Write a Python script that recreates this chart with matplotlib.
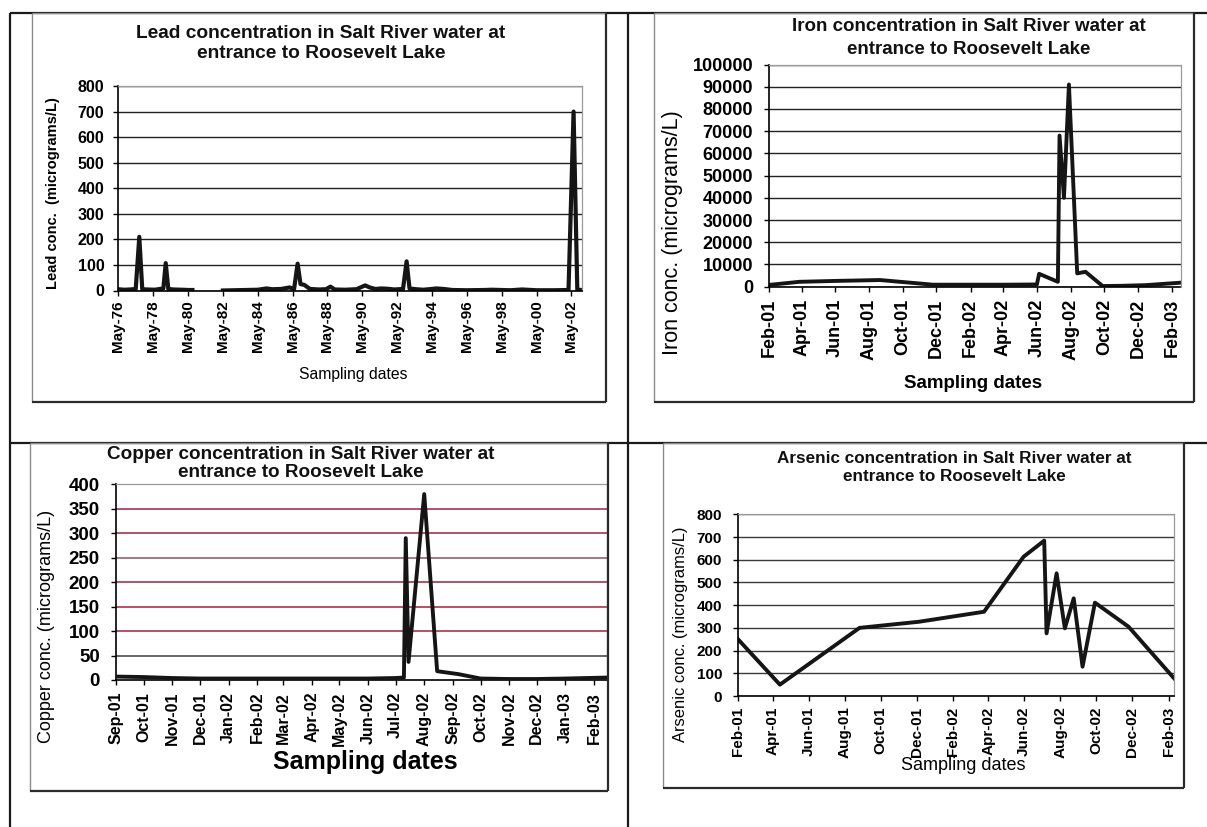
import numpy as np
import pandas as pd
import matplotlib
matplotlib.use("Agg")
import matplotlib.pyplot as plt
import matplotlib.dates as mdates
import matplotlib.ticker as mticker
from matplotlib.lines import Line2D

plt.rcParams['font.family'] = ['Liberation Sans', 'DejaVu Sans']
plt.rcParams['font.weight'] = 'bold'

# ---------------- data ----------------
lead_dates = ["1976-05-01", "1976-09-01", "1977-01-01", "1977-05-01", "1977-07-15",
              "1977-09-15", "1978-01-01", "1978-06-01", "1978-12-01", "1979-01-20",
              "1979-03-15", "1979-07-01", "1980-01-01", "1980-05-01", "1980-08-01",
              "1981-06-01",
              "1982-05-01", "1983-01-01", "1983-09-01", "1984-05-01", "1984-11-01",
              "1985-03-01", "1985-09-01", "1986-03-01", "1986-06-01", "1986-08-15",
              "1986-10-15", "1987-01-01", "1987-05-01", "1987-11-01", "1988-04-01",
              "1988-07-01", "1988-10-01", "1989-05-01", "1990-01-01", "1990-07-01",
              "1990-10-01", "1991-02-01", "1991-06-01", "1991-10-01", "1992-03-01",
              "1992-09-01", "1992-11-15", "1993-01-15", "1993-06-01", "1993-11-01",
              "1994-03-01", "1994-08-01", "1995-01-01", "1995-07-01", "1996-05-01",
              "1997-05-01", "1997-10-01", "1998-11-01", "1999-07-01", "2000-05-01",
              "2001-05-01", "2002-03-01", "2002-06-15", "2002-09-01", "2002-12-01"]
lead_values = [5, 3, 4, 6, 210,
               5, 4, 3, 8, 107,
               6, 4, 3, 2, 2,
               np.nan,
               0, 1, 2, 3, 8,
               5, 6, 12, 5, 105,
               25, 22, 6, 4, 5,
               15, 4, 3, 5, 20,
               12, 6, 8, 7, 4,
               6, 114, 8, 5, 3,
               5, 8, 6, 2, 1,
               2, 3, 1, 4, 1,
               1, 2, 700, 3, 2]

iron_dates = ["2001-02-01", "2001-03-28", "2001-06-01", "2001-08-21", "2001-10-15",
              "2001-11-25", "2002-02-01", "2002-04-01", "2002-06-01", "2002-06-05",
              "2002-07-09", "2002-07-12", "2002-07-20", "2002-07-29", "2002-08-13",
              "2002-08-28", "2002-09-28", "2002-11-01", "2002-12-15", "2003-02-16"]
iron_values = [800, 2200, 2600, 3000, 1800,
               900, 900, 900, 1000, 5800,
               2200, 68000, 40000, 91000, 6000,
               6700, 300, 400, 700, 1800]

copper_dates = ["2001-09-01", "2001-10-01", "2001-11-01", "2001-12-01", "2002-02-01",
                "2002-04-01", "2002-06-01", "2002-07-01", "2002-07-10", "2002-07-12",
                "2002-07-15", "2002-08-01", "2002-08-15", "2002-09-07", "2002-10-01",
                "2002-11-01", "2002-12-01", "2003-01-01", "2003-02-15"]
copper_values = [7, 6, 4, 3, 3,
                 3, 3, 4, 5, 290,
                 37, 380, 18, 12, 3,
                 2, 2, 3, 5]

arsenic_dates = ["2001-02-01", "2001-04-13", "2001-08-26", "2001-12-05", "2002-03-25",
                 "2002-05-31", "2002-07-05", "2002-07-09", "2002-07-26", "2002-08-09",
                 "2002-08-24", "2002-09-08", "2002-09-29", "2002-11-25", "2003-02-10"]
arsenic_values = [250, 50, 300, 327, 371,
                  613, 684, 276, 540, 298,
                  430, 129, 411, 305, 78]

lead_yticks = list(range(0, 801, 100))
iron_yticks = list(range(0, 100001, 10000))
copper_yticks = list(range(0, 401, 50))
arsenic_yticks = list(range(0, 801, 100))

# ---------------- figure helpers ----------------
W, H = 1207, 827
fig = plt.figure(figsize=(W / 100, H / 100), dpi=100)
fig.patch.set_facecolor('white')


def fx(x):
    return x / W


def fy(y):
    return 1 - y / H


def seg(x0, y0, x1, y1, color, lw):
    fig.add_artist(Line2D([fx(x0), fx(x1)], [fy(y0), fy(y1)],
                          transform=fig.transFigure, color=color, lw=lw,
                          solid_capstyle='butt'))


def chart_box(x0, y0, x1, y1):
    seg(x0, y0, x0, y1, '#8c8c8c', 1.0)
    seg(x0, y0, x1, y0, '#8c8c8c', 1.0)
    seg(x1, y0, x1, y1, '#2b2b2b', 1.6)
    seg(x0, y1, x1, y1, '#2b2b2b', 1.6)


def make_axes(x0, y0, x1, y1):
    return fig.add_axes([fx(x0), fy(y1), (x1 - x0) / W, (y1 - y0) / H])


def style(ax, yticks, ysize, xsize, ypad, xpad, grid_color='#222222'):
    for side in ('left', 'bottom'):
        ax.spines[side].set_color('black')
        ax.spines[side].set_linewidth(1.2)
    for side in ('top', 'right'):
        ax.spines[side].set_color('#9a9a9a')
        ax.spines[side].set_linewidth(0.9)
    ax.set_yticks(yticks)
    ax.set_ylim(yticks[0], yticks[-1])
    ax.yaxis.set_major_formatter(mticker.StrMethodFormatter('{x:.0f}'))
    ax.tick_params(axis='both', direction='out', length=3.5, width=1.0, color='black')
    ax.tick_params(axis='y', labelsize=ysize, pad=ypad)
    ax.tick_params(axis='x', labelsize=xsize, pad=xpad, labelrotation=90)
    if grid_color is not None:
        ax.yaxis.grid(True, color=grid_color, lw=1.0)
    ax.set_axisbelow(True)
    ax.set_facecolor('white')


def two_line_title(x, y, text, size, spacing):
    fig.text(fx(x), fy(y), text, ha='center', va='center', fontsize=size,
             fontweight='bold', linespacing=spacing, color='#111111')


# ---------------- table rules ----------------
seg(10, 13, 10, 827, '#1a1a1a', 1.6)
seg(628, 13, 628, 827, '#1a1a1a', 1.6)
seg(10, 13, 1207, 13, '#1a1a1a', 1.6)
seg(10, 443, 1207, 443, '#1a1a1a', 1.6)

# ---------------- Lead ----------------
chart_box(32, 13, 606, 402)
ax = make_axes(118.3, 86, 582.3, 290.5)
style(ax, lead_yticks, 11.5, 11, 6.5, 3.5)
ax.plot(pd.to_datetime(lead_dates), lead_values, color='#151515', lw=3.0)
ax.set_xlim(pd.Timestamp("1976-05-01"), pd.Timestamp("2002-12-15"))
ax.xaxis.set_major_locator(mdates.YearLocator(2, month=5, day=1))
ax.xaxis.set_major_formatter(mdates.DateFormatter('%b-%y'))
two_line_title(321, 43.5, "Lead concentration in Salt River water at\nentrance to Roosevelt Lake", 13.8, 1.3)
fig.text(fx(53.4), fy(193.5), "Lead conc.  (micrograms/L)", rotation=90,
         ha='center', va='center', fontsize=10.5, fontweight='bold')
fig.text(fx(352.8), fy(375), "Sampling dates", ha='center', va='center',
         fontsize=11.3, fontweight='normal')

# ---------------- Iron ----------------
chart_box(654, 13, 1194, 402)
ax = make_axes(769, 64.5, 1180.5, 286.7)
style(ax, iron_yticks, 13, 13, 8, 5)
ax.plot(pd.to_datetime(iron_dates), iron_values, color='#151515', lw=2.8)
ax.set_xlim(pd.Timestamp("2001-02-01"), pd.Timestamp("2003-02-16"))
ax.xaxis.set_major_locator(mdates.MonthLocator(bymonth=[2, 4, 6, 8, 10, 12]))
ax.xaxis.set_major_formatter(mdates.DateFormatter('%b-%y'))
two_line_title(969, 38, "Iron concentration in Salt River water at\nentrance to Roosevelt Lake", 13.5, 1.45)
fig.text(fx(672.4), fy(232.5), "Iron conc. (micrograms/L)", rotation=90,
         ha='center', va='center', fontsize=15.5, fontweight='normal')
fig.text(fx(972.8), fy(383.3), "Sampling dates", ha='center', va='center',
         fontsize=13.5, fontweight='bold')

# ---------------- Copper ----------------
chart_box(30, 443, 608, 791)
ax = make_axes(115.9, 484.3, 607, 680)
style(ax, copper_yticks, 13.5, 11.5, 8, 5, grid_color=None)
copper_grid_colors = {50: '#4a4a4a', 100: '#a8324f', 150: '#a8324f', 200: '#a8324f',
                      250: '#956470', 300: '#a8324f', 350: '#a8324f'}
for level, col in copper_grid_colors.items():
    ax.axhline(level, color=col, lw=1.2, zorder=0.5)
ax.plot(pd.to_datetime(copper_dates), copper_values, color='#151515', lw=2.8, zorder=3)
ax.set_xlim(pd.Timestamp("2001-09-01"), pd.Timestamp("2003-02-15"))
ax.xaxis.set_major_locator(mdates.MonthLocator())
ax.xaxis.set_major_formatter(mdates.DateFormatter('%b-%y'))
two_line_title(300.5, 463.8, "Copper concentration in Salt River water at\nentrance to Roosevelt Lake", 13.6, 1.1)
fig.text(fx(46.7), fy(626.7), "Copper conc. (micrograms/L)", rotation=90,
         ha='center', va='center', fontsize=13, fontweight='normal')
fig.text(fx(365), fy(761.7), "Sampling dates", ha='center', va='center',
         fontsize=18, fontweight='bold')

# ---------------- Arsenic ----------------
chart_box(663, 443, 1184, 788)
ax = make_axes(738, 514.3, 1174, 696)
style(ax, arsenic_yticks, 11, 11, 8, 4, grid_color='#3a3a3a')
ax.plot(pd.to_datetime(arsenic_dates), arsenic_values, color='#151515', lw=2.8)
ax.set_xlim(pd.Timestamp("2001-02-01"), pd.Timestamp("2003-02-10"))
ax.xaxis.set_major_locator(mdates.MonthLocator(bymonth=[2, 4, 6, 8, 10, 12]))
ax.xaxis.set_major_formatter(mdates.DateFormatter('%b-%y'))
two_line_title(954, 467.5, "Arsenic concentration in Salt River water at\nentrance to Roosevelt Lake", 12.3, 1.2)
fig.text(fx(680), fy(634), "Arsenic conc. (micrograms/L)", rotation=90,
         ha='center', va='center', fontsize=11.9, fontweight='normal')
fig.text(fx(963.5), fy(765), "Sampling dates", ha='center', va='center',
         fontsize=13, fontweight='normal')

fig.savefig("out.png", dpi=100, facecolor='white')
